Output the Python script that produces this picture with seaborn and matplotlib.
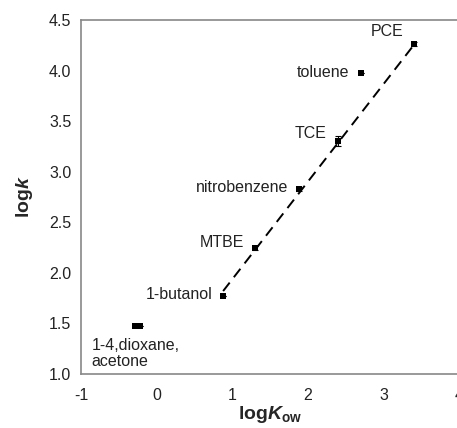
import matplotlib
matplotlib.use("Agg")
import matplotlib.pyplot as plt
import seaborn as sns
import pandas as pd

# compounds, log Kow, log k
compounds = ["PCE", "toluene", "TCE", "nitrobenzene", "MTBE", "1-butanol", "1,4-dioxane", "acetone"]
log_kow = [3.40, 2.70, 2.40, 1.89, 1.30, 0.88, -0.29, -0.22]
log_k = [4.26, 3.98, 3.30, 2.83, 2.25, 1.77, 1.47, 1.47]
log_k_err = [0.02, 0.0, 0.05, 0.02, 0.02, 0.0, 0.0, 0.0]

# dashed trend line end points
fit_x = [0.88, 3.42]
fit_y = [1.82, 4.27]

labels = ["PCE", "toluene", "TCE", "nitrobenzene", "MTBE", "1-butanol", "1-4,dioxane,\nacetone", ""]
# label offsets (points) relative to each marker
offsets = [(-7, 4), (-8, 0), (-8, 6), (-8, 1), (-8, 4), (-8, 1), (-31, -8), (0, 0)]
aligns = [("right", "bottom"), ("right", "center"), ("right", "center"), ("right", "center"),
          ("right", "center"), ("right", "center"), ("left", "top"), ("left", "top")]

df = pd.DataFrame({"compound": compounds, "logKow": log_kow, "logk": log_k, "err": log_k_err})

sns.set_style("white")
plt.rcParams["font.family"] = ["Liberation Sans", "DejaVu Sans"]
plt.rcParams["axes.unicode_minus"] = False
plt.rcParams["mathtext.fontset"] = "custom"
plt.rcParams["mathtext.rm"] = "Liberation Sans:bold"
plt.rcParams["mathtext.it"] = "Liberation Sans:italic:bold"
plt.rcParams["mathtext.bf"] = "Liberation Sans:bold"

fig = plt.figure(figsize=(4.57, 4.28), dpi=100)
ax = fig.add_axes([81 / 457, 1 - 374 / 428, 378 / 457, 354 / 428])

sns.lineplot(x=fit_x, y=fit_y, ax=ax, color="black", linewidth=1.4)
ax.lines[-1].set_dashes([5.5, 3.5])
ax.errorbar(df["logKow"], df["logk"], yerr=df["err"], fmt="none", ecolor="black",
            elinewidth=0.8, capsize=2, capthick=0.8)
sns.scatterplot(data=df, x="logKow", y="logk", ax=ax, marker="s", s=16,
                color="black", edgecolor="black", linewidth=0, zorder=3)

for lab, xv, yv, off, (ha, va) in zip(labels, log_kow, log_k, offsets, aligns):
    if lab:
        ax.annotate(lab, (xv, yv), xytext=off, textcoords="offset points",
                    ha=ha, va=va, fontsize=11.5, color="#222222", linespacing=1.15)

ax.set_xlim(-1, 4)
ax.set_ylim(1.0, 4.5)
ax.set_xticks([-1, 0, 1, 2, 3, 4])
ax.set_yticks([1.0, 1.5, 2.0, 2.5, 3.0, 3.5, 4.0, 4.5])
ax.set_yticklabels(["1.0", "1.5", "2.0", "2.5", "3.0", "3.5", "4.0", "4.5"])
ax.tick_params(axis="both", direction="out", length=4, width=1, color="#888888",
               labelsize=11.5, labelcolor="#222222", pad=3)
ax.tick_params(axis="x", pad=6)

for side in ["left", "bottom", "top"]:
    ax.spines[side].set_color("#888888")
    ax.spines[side].set_linewidth(1.2)
ax.spines["right"].set_visible(False)

ax.set_xlabel(r"log$\mathit{K}_{\mathbf{ow}}$", fontsize=14, fontweight="bold", labelpad=1)
ax.set_ylabel(r"log$\mathit{k}$", fontsize=14, fontweight="bold", labelpad=10)

fig.savefig("out.png", dpi=100)
